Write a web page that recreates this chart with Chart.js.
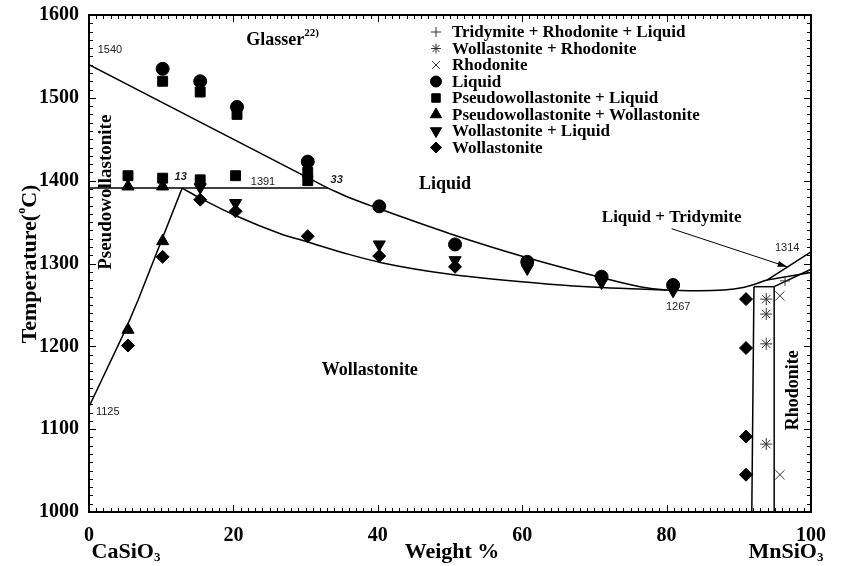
<!DOCTYPE html>
<html>
<head>
<meta charset="utf-8">
<script src="https://cdn.jsdelivr.net/npm/chart.js@4/dist/chart.umd.min.js"></script>
<style>
  body { margin: 0; background: #fff; }
  #wrap { width: 841px; height: 566px; }
</style>
</head>
<body>
<div id="wrap"><canvas id="phaseChart" width="841" height="566"></canvas></div>
<script>
// CaSiO3 - MnSiO3 phase diagram, temperature vs weight % MnSiO3

// quench runs, one pair of arrays per phase assemblage
const triRhoLiqWt = [96.4];
const triRhoLiqT = [1279];
const wolRhoWt = [93.8, 93.8, 93.8, 93.8];
const wolRhoT = [1257, 1239, 1203, 1082];
const rhoWt = [95.7, 95.7];
const rhoT = [1261, 1045];
const liqWt = [10.2, 15.4, 20.5, 30.3, 40.2, 50.7, 60.7, 71.0, 80.9];
const liqT = [1535, 1520, 1489, 1423, 1369, 1323, 1302, 1284, 1274];
const pwLiqWt = [5.4, 10.2, 10.2, 15.4, 15.4, 20.5, 20.3, 30.3, 30.3];
const pwLiqT = [1406, 1520, 1403, 1507, 1401, 1480, 1406, 1410, 1400];
const pwWolWt = [5.4, 10.2, 10.2, 5.4];
const pwWolT = [1393, 1393, 1327, 1220];
const wolLiqWt = [15.4, 20.3, 40.2, 50.7, 60.7, 71.0, 80.9];
const wolLiqT = [1392, 1373, 1323, 1304, 1294, 1277, 1267];
const wolWt = [5.4, 10.2, 15.4, 20.3, 30.3, 40.2, 50.7, 91, 91, 91, 91];
const wolT = [1201, 1308, 1377, 1363, 1333, 1309, 1296, 1257, 1198, 1091, 1045];

// phase boundaries as [wt%, T] pairs
const pwLiquidus = [[0, 1540], [33.1, 1391]];
const liquidus = [[33.1, 1391], [36.2, 1379], [40.2, 1366], [50, 1336], [60.7, 1307], [71, 1283],
  [76.3, 1272], [80, 1268], [84.6, 1267], [90.6, 1271], [93.9, 1280]];
const wolLiquidus = [[12.9, 1391], [15.4, 1379], [20.5, 1357], [26.5, 1336], [30.3, 1326], [36, 1311],
  [40.5, 1301], [50, 1287], [63.8, 1275], [71, 1271], [80, 1268]];
const pwWolBoundary = [[0, 1127], [5, 1219], [6.8, 1256], [12.9, 1391]];
const invariant1391 = [[0, 1391], [33.1, 1391]];
const rhoLeft = [[91.8, 1000], [92.1, 1272]];
const rhoRight = [[94.9, 1000], [94.9, 1272]];
const rhoSolidus = [[92.1, 1272], [94.9, 1272]];
const tridLiquidus = [[93.9, 1280], [100, 1314]];
const tridLower = [[93.9, 1280], [100, 1289]];
const rhoTrid = [[94.9, 1272], [100, 1293]];

// axis ticks
const xTicks = [0, 20, 40, 60, 80, 100];
const yTicks = [1000, 1100, 1200, 1300, 1400, 1500, 1600];

const SERIF = '"Liberation Serif", "Times New Roman", serif';
const SANS = '"Liberation Sans", Arial, sans-serif';

function pts(wt, t) {
  return wt.map((w, i) => ({ x: w, y: t[i] }));
}
function pairs(arr) {
  return arr.map(p => ({ x: p[0], y: p[1] }));
}

function markerSet(label, wt, t, style, radius, rotation, filled) {
  return {
    label: label,
    data: pts(wt, t),
    pointStyle: style,
    pointRadius: radius,
    pointRotation: rotation,
    pointBackgroundColor: filled ? '#000' : 'transparent',
    pointBorderColor: filled ? '#000' : '#333',
    pointBorderWidth: 1,
    showLine: false
  };
}

function boundary(arr, curved) {
  return {
    label: '',
    data: pairs(arr),
    showLine: true,
    pointRadius: 0,
    borderColor: '#000',
    borderWidth: 1.5,
    tension: 0,
    cubicInterpolationMode: curved ? 'monotone' : 'default',
    fill: false
  };
}

const markers = [
  markerSet('Tridymite + Rhodonite + Liquid', triRhoLiqWt, triRhoLiqT, 'cross', 5, 0, false),
  markerSet('Wollastonite + Rhodonite', wolRhoWt, wolRhoT, 'star', 6, 0, false),
  markerSet('Rhodonite', rhoWt, rhoT, 'crossRot', 6.5, 0, false),
  markerSet('Liquid', liqWt, liqT, 'circle', 6.5, 0, true),
  markerSet('Pseudowollastonite + Liquid', pwLiqWt, pwLiqT, 'rect', 7, 0, true),
  markerSet('Pseudowollastonite + Wollastonite', pwWolWt, pwWolT, 'triangle', 7, 0, true),
  markerSet('Wollastonite + Liquid', wolLiqWt, wolLiqT, 'triangle', 7, 180, true),
  markerSet('Wollastonite', wolWt, wolT, 'rectRot', 6.5, 0, true)
];

const lines = [
  boundary(pwLiquidus, false),
  boundary(liquidus, true),
  boundary(wolLiquidus, true),
  boundary(pwWolBoundary, false),
  boundary(invariant1391, false),
  boundary(rhoLeft, false),
  boundary(rhoRight, false),
  boundary(rhoSolidus, false),
  boundary(tridLiquidus, false),
  boundary(tridLower, false),
  boundary(rhoTrid, false)
];

function drawMarker(ctx, ds, x, y, r) {
  ctx.fillStyle = ds.pointBackgroundColor;
  ctx.strokeStyle = ds.pointBorderColor;
  ctx.lineWidth = 1;
  Chart.helpers.drawPoint(ctx, { pointStyle: ds.pointStyle, rotation: ds.pointRotation, radius: r, borderWidth: 1 }, x, y);
}

// text with a raised or lowered small part, e.g. Glasser^22) or CaSiO_3
function richText(ctx, parts, cx, cy, align) {
  let total = 0;
  parts.forEach(p => { ctx.font = p.font; total += ctx.measureText(p.text).width; });
  let x = align === 'left' ? cx : cx - total / 2;
  ctx.textAlign = 'left';
  ctx.textBaseline = 'middle';
  parts.forEach(p => {
    ctx.font = p.font;
    ctx.fillText(p.text, x, cy + (p.dy || 0));
    x += ctx.measureText(p.text).width;
  });
}

const decorations = {
  id: 'decorations',
  afterDatasetsDraw(chart) {
    const { ctx, chartArea: a, scales: { x, y } } = chart;
    const X = v => x.getPixelForValue(v);
    const Y = v => y.getPixelForValue(v);
    ctx.save();

    // inward ticks on all four sides
    ctx.strokeStyle = '#000';
    ctx.lineWidth = 1;
    ctx.beginPath();
    for (let v = 0; v <= 100; v += 1) {
      const px = Math.round(X(v)) + 0.5;
      const len = v % 20 === 0 ? 7 : 4;
      ctx.moveTo(px, a.bottom); ctx.lineTo(px, a.bottom - len);
      ctx.moveTo(px, a.top); ctx.lineTo(px, a.top + len);
    }
    for (let v = 1000; v <= 1600; v += 10) {
      const py = Math.round(Y(v)) + 0.5;
      const len = v % 100 === 0 ? 7 : 4;
      ctx.moveTo(a.left, py); ctx.lineTo(a.left + len, py);
      ctx.moveTo(a.right, py); ctx.lineTo(a.right - len, py);
    }
    ctx.stroke();
    ctx.lineWidth = 2;
    ctx.strokeRect(a.left, a.top, a.right - a.left, a.bottom - a.top);

    // arrow pointing at the liquid + tridymite field
    const x0 = X(80.7), y0 = Y(1342), x1 = X(96.7), y1 = Y(1296);
    const ang = Math.atan2(y1 - y0, x1 - x0);
    ctx.lineWidth = 1;
    ctx.beginPath();
    ctx.moveTo(x0, y0); ctx.lineTo(x1, y1);
    ctx.stroke();
    ctx.fillStyle = '#000';
    ctx.beginPath();
    ctx.moveTo(x1, y1);
    ctx.lineTo(x1 - 10 * Math.cos(ang - 0.3), y1 - 10 * Math.sin(ang - 0.3));
    ctx.lineTo(x1 - 10 * Math.cos(ang + 0.3), y1 - 10 * Math.sin(ang + 0.3));
    ctx.closePath();
    ctx.fill();

    // small numeric labels
    ctx.fillStyle = '#222';
    ctx.textAlign = 'center';
    ctx.textBaseline = 'middle';
    ctx.font = '11px ' + SANS;
    [['1540', 2.9, 1558], ['1391', 24.1, 1398], ['1314', 96.7, 1319], ['1267', 81.6, 1247], ['1125', 2.6, 1121]]
      .forEach(l => ctx.fillText(l[0], X(l[1]), Y(l[2])));
    ctx.font = 'italic bold 11px ' + SANS;
    ctx.fillText('13', X(12.7), Y(1404));
    ctx.fillText('33', X(34.3), Y(1401));

    // field names
    ctx.fillStyle = '#000';
    ctx.font = 'bold 18px ' + SERIF;
    ctx.fillText('Liquid', X(49.3), Y(1395));
    ctx.fillText('Wollastonite', X(38.9), Y(1171));
    ctx.font = 'bold 17px ' + SERIF;
    ctx.fillText('Liquid + Tridymite', X(80.7), Y(1355));
    richText(ctx, [
      { text: 'Glasser', font: 'bold 18px ' + SERIF },
      { text: '22)', font: 'bold 11px ' + SERIF, dy: -7 }
    ], X(26.8), Y(1570));

    ctx.textAlign = 'center';
    ctx.font = 'bold 19px ' + SERIF;
    ctx.save();
    ctx.translate(X(2.3), Y(1386));
    ctx.rotate(-Math.PI / 2);
    ctx.fillText('Pseudowollastonite', 0, 0);
    ctx.restore();
    ctx.font = 'bold 18px ' + SERIF;
    ctx.save();
    ctx.translate(X(97.5), Y(1147));
    ctx.rotate(-Math.PI / 2);
    ctx.fillText('Rhodonite', 0, 0);
    ctx.restore();

    // axis titles
    ctx.save();
    ctx.translate(30, 264);
    ctx.rotate(-Math.PI / 2);
    richText(ctx, [
      { text: 'Temperature(', font: 'bold 22px ' + SERIF },
      { text: 'o', font: 'bold 12px ' + SERIF, dy: -8 },
      { text: 'C)', font: 'bold 22px ' + SERIF }
    ], 0, 0);
    ctx.restore();
    ctx.font = 'bold 22px ' + SERIF;
    ctx.textAlign = 'center';
    ctx.fillText('Weight %', 452, 552);
    richText(ctx, [
      { text: 'CaSiO', font: 'bold 22px ' + SERIF },
      { text: '3', font: 'bold 13px ' + SERIF, dy: 6 }
    ], 126, 552);
    richText(ctx, [
      { text: 'MnSiO', font: 'bold 22px ' + SERIF },
      { text: '3', font: 'bold 13px ' + SERIF, dy: 6 }
    ], 786, 552);

    // legend of phase assemblages
    const legendR = [5, 5, 5.5, 5.5, 6, 6.5, 6.5, 5.5];
    markers.forEach((ds, i) => {
      const ly = 32 + i * 16.5;
      drawMarker(ctx, ds, 436, ly, legendR[i]);
      ctx.fillStyle = '#000';
      ctx.font = 'bold 17px ' + SERIF;
      ctx.textAlign = 'left';
      ctx.textBaseline = 'middle';
      ctx.fillText(ds.label, 452, ly + 1);
    });

    ctx.restore();
  }
};

new Chart(document.getElementById('phaseChart').getContext('2d'), {
  type: 'scatter',
  data: { datasets: markers.concat(lines) },
  options: {
    responsive: false,
    animation: false,
    layout: { padding: { top: 15, right: 30, left: 0, bottom: 0 } },
    plugins: { legend: { display: false }, tooltip: { enabled: false } },
    scales: {
      x: {
        type: 'linear',
        min: 0,
        max: 100,
        afterBuildTicks: s => { s.ticks = xTicks.map(v => ({ value: v })); },
        afterFit: s => { s.height = 54; s.paddingLeft = 0; s.paddingRight = 0; },
        ticks: { color: '#000', padding: 12, callback: v => String(v), font: { family: SERIF, size: 20, weight: 'bold' } },
        grid: { display: false, drawTicks: false },
        border: { display: false }
      },
      y: {
        type: 'linear',
        min: 1000,
        max: 1600,
        afterBuildTicks: s => { s.ticks = yTicks.map(v => ({ value: v })); },
        afterFit: s => { s.width = 89; s.paddingTop = 0; s.paddingBottom = 0; },
        ticks: { color: '#000', padding: 10, callback: v => String(v), font: { family: SERIF, size: 20, weight: 'bold' } },
        grid: { display: false, drawTicks: false },
        border: { display: false }
      }
    }
  },
  plugins: [decorations]
});
</script>
</body>
</html>
